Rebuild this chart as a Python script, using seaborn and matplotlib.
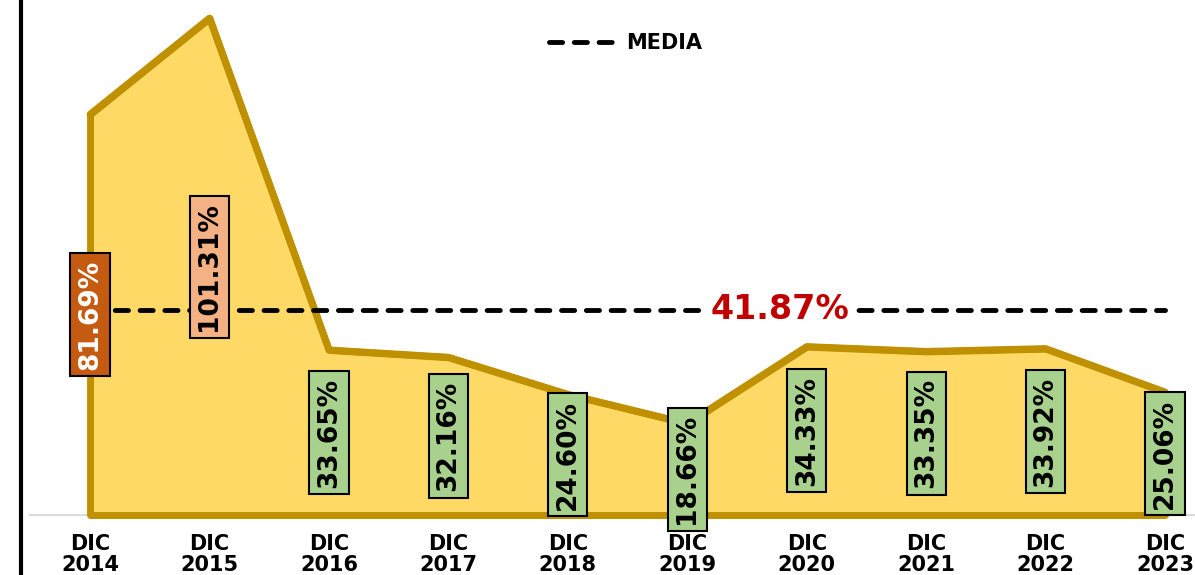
import matplotlib
matplotlib.use("Agg")
import matplotlib.pyplot as plt
import seaborn as sns
import numpy as np
import pandas as pd

# Year-end ratios (%)
years = ["2014", "2015", "2016", "2017", "2018", "2019", "2020", "2021", "2022", "2023"]
tick_labels = [f"DIC\n{y}" for y in years]
values = [81.69, 101.31, 33.65, 32.16, 24.60, 18.66, 34.33, 33.35, 33.92, 25.06]
label_fill = ["#C55A11", "#F4B183", "#A9D18E", "#A9D18E", "#A9D18E",
              "#A9D18E", "#A9D18E", "#A9D18E", "#A9D18E", "#A9D18E"]
label_text = ["white", "black", "black", "black", "black",
              "black", "black", "black", "black", "black"]

sns.set_style("white")
plt.rcParams["font.family"] = ["DejaVu Sans"]
plt.rcParams["font.weight"] = "bold"
plt.rcParams["text.color"] = "black"
plt.rcParams["xtick.color"] = "black"
plt.rcParams["xtick.labelcolor"] = "black"

df = pd.DataFrame({"idx": np.arange(len(values)), "value": values})
mean_val = float(np.mean(values))

GOLD = "#BF9000"
FILL = "#FFD966"

fig = plt.figure(figsize=(11.95, 5.75), dpi=100)
ax = fig.add_axes([21 / 1195, 60 / 575, 1 - 21 / 1195, 515 / 575])

# shaded area with outline
ax.fill_between(df["idx"], df["value"], 0, facecolor=FILL, edgecolor=GOLD,
                linewidth=5, joinstyle="round", clip_on=False, zorder=2)
sns.lineplot(data=df, x="idx", y="value", color=GOLD, linewidth=5, ax=ax,
             zorder=3, solid_joinstyle="round", legend=False)

# average line
ax.plot([0, len(values) - 1], [mean_val, mean_val], color="black", linewidth=3.5,
        linestyle=(0, (2.7, 2.4)), dash_capstyle="round", zorder=4, label="MEDIA")
ax.text(5.78, mean_val, f"{mean_val:.2f}%", color="#C00000", fontsize=24,
        fontweight="bold", ha="center", va="center", zorder=5,
        bbox=dict(boxstyle="square,pad=0.1", facecolor="white", edgecolor="none"))

# value labels
for i, v in enumerate(values):
    ax.text(i, v / 2, f"{v:.2f}%", rotation=90, ha="center", va="center",
            fontsize=19, fontweight="bold", color=label_text[i], zorder=6,
            clip_on=False,
            bbox=dict(boxstyle="square,pad=0.25", facecolor=label_fill[i],
                      edgecolor="black", linewidth=1.5))

ax.set_xlim(-0.578, 9.251)
ax.set_ylim(0, 105)
ax.set_xticks(range(len(values)))
ax.set_xticklabels(tick_labels, fontsize=15, fontweight="bold", linespacing=1.05,
                   color="black")
ax.tick_params(axis="x", length=0, pad=14)
ax.set_yticks([])
ax.set_xlabel("")
ax.set_ylabel("")

for side in ["top", "right"]:
    ax.spines[side].set_visible(False)
ax.spines["left"].set_color("black")
ax.spines["left"].set_linewidth(3)
ax.spines["left"].set_bounds(-20, 110)
ax.spines["bottom"].set_color("#D9D9D9")
ax.spines["bottom"].set_linewidth(1.5)
ax.spines["bottom"].set_bounds(-0.5, 9.251)
ax.spines["bottom"].set_zorder(1)

fig.legend(loc="center", bbox_to_anchor=(626 / 1195, 1 - 43 / 575), frameon=False,
           prop={"size": 15, "weight": "bold"}, handlelength=3, handletextpad=0.7,
           labelcolor="black")

fig.savefig("out.png", dpi=100)
